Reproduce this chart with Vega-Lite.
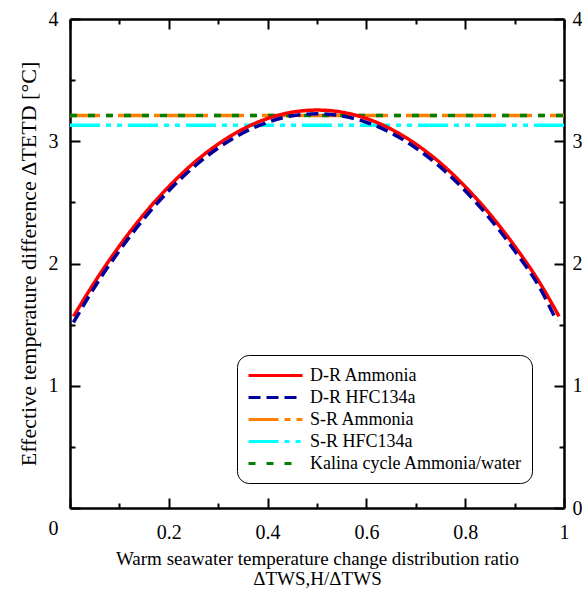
{
  "$schema": "https://vega.github.io/schema/vega-lite/v6.json",
  "autosize": {"type": "none"},
  "width": 494,
  "height": 489,
  "padding": {"left": 70, "top": 19, "right": 18, "bottom": 83},
  "background": "white",
  "config": {
    "view": {"stroke": null},
    "font": "Liberation Serif",
    "axis": {
      "labelFont": "Liberation Serif",
      "labelFontSize": 20,
      "labelColor": "black",
      "titleFont": "Liberation Serif",
      "titleFontWeight": "normal",
      "titleColor": "black",
      "titleFontSize": 21,
      "domainColor": "black",
      "domainWidth": 2.5,
      "tickColor": "black",
      "tickWidth": 2,
      "grid": false
    }
  },
  "data": {"values": [
    {"series": "S-R Ammonia", "x": 0, "y": 3.21},
    {"series": "S-R Ammonia", "x": 1, "y": 3.21},
    {"series": "S-R HFC134a", "x": 0, "y": 3.13},
    {"series": "S-R HFC134a", "x": 1, "y": 3.13},
    {"series": "Kalina cycle Ammonia/water", "x": 0, "y": 3.21},
    {"series": "Kalina cycle Ammonia/water", "x": 1, "y": 3.21},
    {"series": "D-R Ammonia", "x": 0.007, "y": 1.567},
    {"series": "D-R Ammonia", "x": 0.05, "y": 1.848},
    {"series": "D-R Ammonia", "x": 0.1, "y": 2.143},
    {"series": "D-R Ammonia", "x": 0.15, "y": 2.404},
    {"series": "D-R Ammonia", "x": 0.2, "y": 2.629},
    {"series": "D-R Ammonia", "x": 0.25, "y": 2.821},
    {"series": "D-R Ammonia", "x": 0.3, "y": 2.977},
    {"series": "D-R Ammonia", "x": 0.35, "y": 3.099},
    {"series": "D-R Ammonia", "x": 0.4, "y": 3.186},
    {"series": "D-R Ammonia", "x": 0.45, "y": 3.238},
    {"series": "D-R Ammonia", "x": 0.5, "y": 3.255},
    {"series": "D-R Ammonia", "x": 0.55, "y": 3.238},
    {"series": "D-R Ammonia", "x": 0.6, "y": 3.186},
    {"series": "D-R Ammonia", "x": 0.65, "y": 3.099},
    {"series": "D-R Ammonia", "x": 0.7, "y": 2.977},
    {"series": "D-R Ammonia", "x": 0.75, "y": 2.821},
    {"series": "D-R Ammonia", "x": 0.8, "y": 2.629},
    {"series": "D-R Ammonia", "x": 0.85, "y": 2.404},
    {"series": "D-R Ammonia", "x": 0.9, "y": 2.143},
    {"series": "D-R Ammonia", "x": 0.95, "y": 1.848},
    {"series": "D-R Ammonia", "x": 0.99, "y": 1.567},
    {"series": "D-R HFC134a", "x": 0.007, "y": 1.518},
    {"series": "D-R HFC134a", "x": 0.05, "y": 1.808},
    {"series": "D-R HFC134a", "x": 0.1, "y": 2.105},
    {"series": "D-R HFC134a", "x": 0.15, "y": 2.368},
    {"series": "D-R HFC134a", "x": 0.2, "y": 2.595},
    {"series": "D-R HFC134a", "x": 0.25, "y": 2.788},
    {"series": "D-R HFC134a", "x": 0.3, "y": 2.945},
    {"series": "D-R HFC134a", "x": 0.35, "y": 3.068},
    {"series": "D-R HFC134a", "x": 0.4, "y": 3.155},
    {"series": "D-R HFC134a", "x": 0.45, "y": 3.208},
    {"series": "D-R HFC134a", "x": 0.5, "y": 3.225},
    {"series": "D-R HFC134a", "x": 0.55, "y": 3.208},
    {"series": "D-R HFC134a", "x": 0.6, "y": 3.155},
    {"series": "D-R HFC134a", "x": 0.65, "y": 3.068},
    {"series": "D-R HFC134a", "x": 0.7, "y": 2.945},
    {"series": "D-R HFC134a", "x": 0.75, "y": 2.788},
    {"series": "D-R HFC134a", "x": 0.8, "y": 2.595},
    {"series": "D-R HFC134a", "x": 0.85, "y": 2.368},
    {"series": "D-R HFC134a", "x": 0.9, "y": 2.105},
    {"series": "D-R HFC134a", "x": 0.95, "y": 1.808},
    {"series": "D-R HFC134a", "x": 0.985, "y": 1.53}
  ]},
  "layer": [
    {
      "mark": {"type": "line", "strokeWidth": 3.5, "interpolate": "monotone", "clip": true},
      "encoding": {
        "x": {
          "field": "x", "type": "quantitative",
          "scale": {"domain": [0, 1], "nice": false, "zero": false},
          "axis": {
            "orient": "bottom",
            "values": [0, 0.1, 0.2, 0.3, 0.4, 0.5, 0.6, 0.7, 0.8, 0.9, 1],
            "tickSize": {"condition": {"test": "round(datum.value*10)%2==0", "value": -10}, "value": -5},
            "labelExpr": "datum.value == 0 ? '' : datum.value == 1 ? '1' : (round(datum.value*10)%2==0 ? format(datum.value, '.1f') : '')",
            "labelPadding": 24,
            "labelFlush": false,
            "labelOverlap": false,
            "title": ["Warm seawater temperature change distribution ratio", "ΔTWS,H/ΔTWS"],
            "titleFontSize": 19,
            "titleLineHeight": 20,
            "titlePadding": 2
          }
        },
        "y": {
          "field": "y", "type": "quantitative",
          "scale": {"domain": [0, 4], "nice": false, "zero": false},
          "axis": {
            "orient": "left",
            "values": [0, 0.5, 1, 1.5, 2, 2.5, 3, 3.5, 4],
            "tickSize": {"condition": {"test": "datum.value % 1 == 0", "value": -10}, "value": -5},
            "labelExpr": "datum.value % 1 == 0 ? format(datum.value, 'd') : ''",
            "labelBaseline": {"condition": {"test": "datum.value == 0", "value": "top"}, "value": "middle"},
            "labelOffset": {"condition": {"test": "datum.value == 0", "value": 10}, "value": 0},
            "labelPadding": 22,
            "labelFlush": false,
            "labelOverlap": false,
            "title": "Effective temperature difference ΔTETD [°C]",
            "titleFontSize": 22,
            "titlePadding": 8
          }
        },
        "color": {
          "field": "series", "type": "nominal",
          "scale": {
            "domain": ["D-R Ammonia", "D-R HFC134a", "S-R Ammonia", "S-R HFC134a", "Kalina cycle Ammonia/water"],
            "range": ["#FF0000", "#00009C", "#FF8000", "#00FFFF", "#008000"]
          },
          "legend": {
            "orient": "none",
            "legendX": 167,
            "legendY": 336,
            "title": null,
            "strokeColor": "black",
            "cornerRadius": 12,
            "padding": 10,
            "fillColor": "white",
            "symbolType": "M-1,0H5",
            "symbolSize": 324,
            "symbolStrokeWidth": 3,
            "labelFont": "Liberation Serif",
            "labelFontSize": 18,
            "labelColor": "black",
            "labelLimit": 300,
            "rowPadding": 2,
            "labelOffset": 42
          }
        },
        "strokeDash": {
          "field": "series", "type": "nominal",
          "scale": {
            "domain": ["D-R Ammonia", "D-R HFC134a", "S-R Ammonia", "S-R HFC134a", "Kalina cycle Ammonia/water"],
            "range": [[1, 0], [12, 6], [30, 6, 6, 6], [30, 6, 5, 6, 5, 6], [7, 11]]
          }
        }
      }
    },
    {
      "mark": {"type": "line", "opacity": 0},
      "encoding": {
        "x": {
          "field": "x", "type": "quantitative",
          "scale": {"domain": [0, 1], "nice": false, "zero": false},
          "axis": {
            "orient": "top",
            "values": [0, 0.1, 0.2, 0.3, 0.4, 0.5, 0.6, 0.7, 0.8, 0.9, 1],
            "tickSize": {"condition": {"test": "round(datum.value*10)%2==0", "value": -10}, "value": -5},
            "labels": false,
            "title": null
          }
        },
        "y": {
          "field": "y", "type": "quantitative",
          "scale": {"domain": [0, 4], "nice": false, "zero": false},
          "axis": {
            "orient": "right",
            "values": [0, 0.5, 1, 1.5, 2, 2.5, 3, 3.5, 4],
            "tickSize": {"condition": {"test": "datum.value % 1 == 0", "value": -10}, "value": -5},
            "labelExpr": "datum.value % 1 == 0 ? format(datum.value, 'd') : ''",
            "labelPadding": 18,
            "labelFlush": false,
            "labelOverlap": false,
            "title": null
          }
        }
      }
    }
  ],
  "resolve": {"scale": {"x": "independent", "y": "independent"}}
}
